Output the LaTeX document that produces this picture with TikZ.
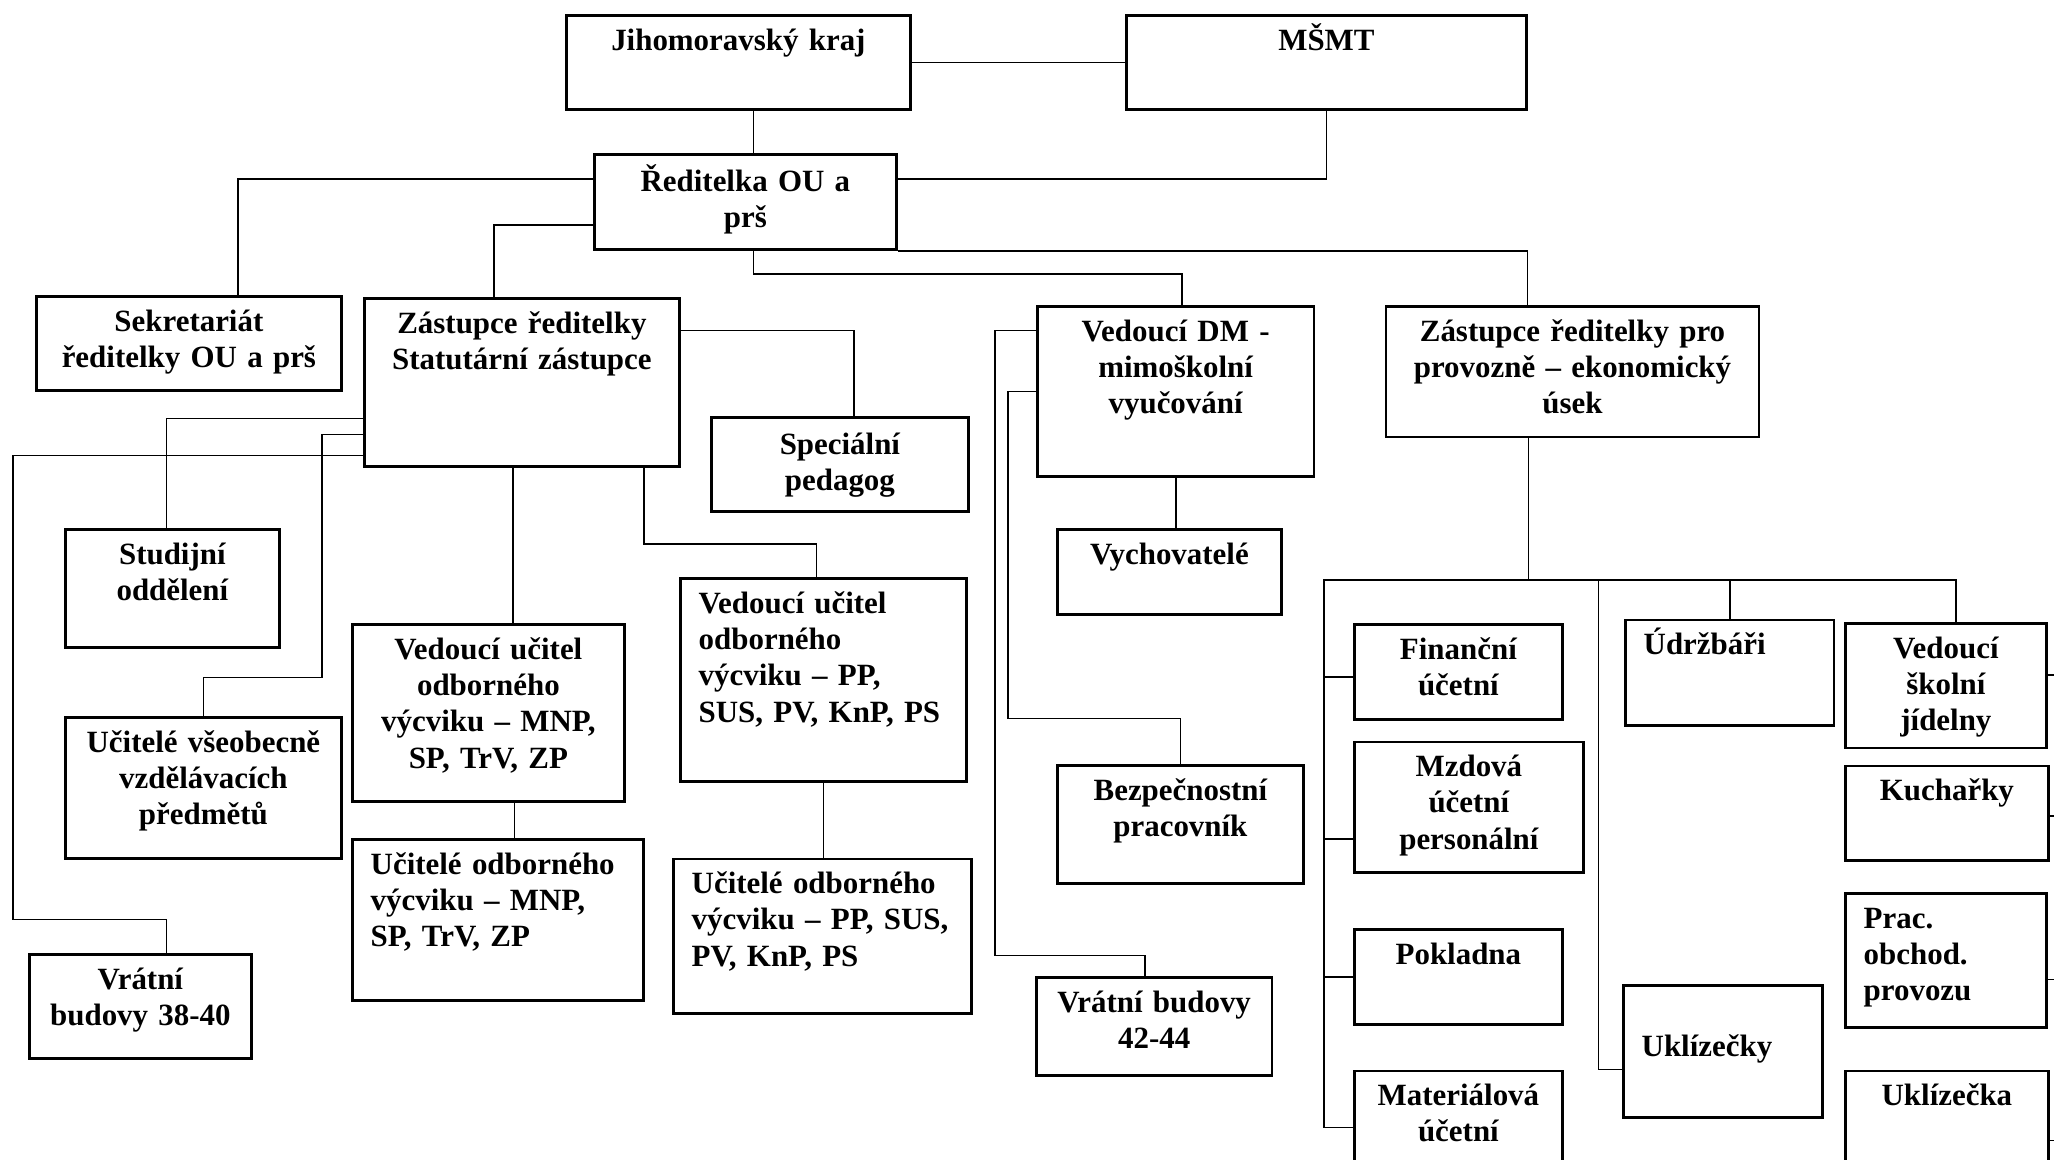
\documentclass[tikz,border=0pt]{standalone}
\usepackage{fontspec}
\setmainfont{Liberation Serif}
\usepackage{tikz}
\tikzstyle{box} = [rectangle, draw=black, line width=0.8pt, anchor=north west, inner sep=0pt]
\tikzstyle{txt} = [anchor=base, yshift=-0.36cm, text width=3.8cm, align=center, inner sep=0pt, font=\bfseries\fontsize{8.8}{10.35}\selectfont]
\tikzstyle{txtl} = [txt, anchor=base west, align=left, xshift=0.19cm]
\tikzstyle{line} = [line width=0.5pt]

\begin{document}
\begin{tikzpicture}
\useasboundingbox (0,0) rectangle (20.54,-11.59);
\clip (0,0) rectangle (20.54,-11.59);

\node (jmk) [box, minimum width=3.44cm, minimum height=0.94cm] at (5.65,-0.14) {};
\node (msmt) [box, minimum width=4.00cm, minimum height=0.94cm] at (11.25,-0.14) {};
\node (redit) [box, minimum width=3.02cm, minimum height=0.95cm] at (5.93,-1.53) {};
\node (sekr) [box, minimum width=3.05cm, minimum height=0.94cm] at (0.35,-2.95) {};
\node (zast) [box, minimum width=3.15cm, minimum height=1.68cm] at (3.63,-2.97) {};
\node (spec) [box, minimum width=2.57cm, minimum height=0.94cm] at (7.10,-4.16) {};
\node (studij) [box, minimum width=2.14cm, minimum height=1.18cm] at (0.64,-5.28) {};
\node (ucvs) [box, minimum width=2.76cm, minimum height=1.41cm] at (0.64,-7.16) {};
\node (vr3840) [box, minimum width=2.22cm, minimum height=1.04cm] at (0.28,-9.53) {};
\node (vmnp) [box, minimum width=2.72cm, minimum height=1.77cm] at (3.51,-6.23) {};
\node (umnp) [box, minimum width=2.91cm, minimum height=1.61cm] at (3.51,-8.38) {};
\node (vpp) [box, minimum width=2.86cm, minimum height=2.03cm] at (6.79,-5.77) {};
\node (upp) [box, minimum width=2.98cm, minimum height=1.545cm] at (6.72,-8.575) {};
\node (vdm) [box, minimum width=2.765cm, minimum height=1.70cm] at (10.36,-3.05) {};
\node (vych) [box, minimum width=2.24cm, minimum height=0.85cm] at (10.56,-5.28) {};
\node (bezp) [box, minimum width=2.46cm, minimum height=1.18cm] at (10.56,-7.64) {};
\node (vr4244) [box, minimum width=2.355cm, minimum height=0.98cm] at (10.35,-9.76) {};
\node (zpe) [box, minimum width=3.73cm, minimum height=1.305cm] at (13.846,-3.05) {};
\node (fin) [box, minimum width=2.08cm, minimum height=0.95cm] at (13.53,-6.23) {};
\node (mzd) [box, minimum width=2.29cm, minimum height=1.305cm] at (13.53,-7.406) {};
\node (pokl) [box, minimum width=2.08cm, minimum height=0.95cm] at (13.53,-9.28) {};
\node (mat) [box, minimum width=2.08cm, minimum height=1.13cm] at (13.53,-10.695) {};
\node (udrz) [box, minimum width=2.085cm, minimum height=1.055cm] at (16.24,-6.185) {};
\node (ukly) [box, minimum width=1.99cm, minimum height=1.32cm] at (16.22,-9.84) {};
\node (vsj) [box, minimum width=2.01cm, minimum height=1.245cm] at (18.44,-6.22) {};
\node (kuch) [box, minimum width=2.03cm, minimum height=0.944cm] at (18.44,-7.646) {};
\node (prac) [box, minimum width=2.01cm, minimum height=1.34cm] at (18.44,-8.92) {};
\node (ukla) [box, minimum width=2.03cm, minimum height=1.39cm] at (18.44,-10.695) {};

\node (jmkt) [txt] at (jmk.north) {Jihomoravský kraj};
\node (msmtt) [txt] at (msmt.north) {MŠMT};
\node (reditt) [txt, yshift=-0.02cm] at (redit.north) {Ředitelka OU a\\prš};
\node (sekrt) [txt] at (sekr.north) {Sekretariát\\ředitelky OU a prš};
\node (zastt) [txt] at (zast.north) {Zástupce ředitelky\\Statutární zástupce};
\node (spect) [txt, yshift=-0.02cm] at (spec.north) {Speciální\\pedagog};
\node (studijt) [txt] at (studij.north) {Studijní\\oddělení};
\node (ucvst) [txt] at (ucvs.north) {Učitelé všeobecně\\vzdělávacích\\předmětů};
\node (vr3840t) [txt] at (vr3840.north) {Vrátní\\budovy 38-40};
\node (vmnpt) [txt] at (vmnp.north) {Vedoucí učitel\\odborného\\výcviku – MNP,\\SP, TrV, ZP};
\node (umnpt) [txtl] at (umnp.north west) {Učitelé odborného\\výcviku – MNP,\\SP, TrV, ZP};
\node (vppt) [txtl] at (vpp.north west) {Vedoucí učitel\\odborného\\výcviku – PP,\\SUS, PV, KnP, PS};
\node (uppt) [txtl] at (upp.north west) {Učitelé odborného\\výcviku – PP, SUS,\\PV, KnP, PS};
\node (vdmt) [txt] at (vdm.north) {Vedoucí DM -\\mimoškolní\\vyučování};
\node (vycht) [txt] at (vych.north) {Vychovatelé};
\node (bezpt) [txt] at (bezp.north) {Bezpečnostní\\pracovník};
\node (vr4244t) [txt] at (vr4244.north) {Vrátní budovy\\42-44};
\node (zpet) [txt] at (zpe.north) {Zástupce ředitelky pro\\provozně – ekonomický\\úsek};
\node (fint) [txt] at (fin.north) {Finanční\\účetní};
\node (mzdt) [txt] at (mzd.north) {Mzdová\\účetní\\personální};
\node (poklt) [txt] at (pokl.north) {Pokladna};
\node (matt) [txt] at (mat.north) {Materiálová\\účetní};
\node (udrzt) [txtl] at (udrz.north west) {Údržbáři};
\node (uklyt) [txtl, yshift=-0.36cm] at (ukly.north west) {Uklízečky};
\node (vsjt) [txt] at (vsj.north) {Vedoucí\\školní\\jídelny};
\node (kucht) [txt] at (kuch.north) {Kuchařky};
\node (prackt) [txtl] at (prac.north west) {Prac.\\obchod.\\provozu};
\node (uklat) [txt] at (ukla.north) {Uklízečka};

\draw [line] (jmk.east) -- (msmt.west);
\draw [line] ([xshift=0.15cm]jmk.south) -- ([xshift=0.15cm]jmk.south |- redit.north);
\draw [line] (msmt.south) |- ([yshift=0.23cm]redit.east);
\draw [line] ([yshift=0.23cm]redit.west) -| ([xshift=0.49cm]sekr.north);
\draw [line] ([yshift=-0.23cm]redit.west) -| ([xshift=-0.28cm]zast.north);
\draw [line] (redit.south east) -| ([xshift=-0.45cm]zpe.north);
\draw [line] ([xshift=0.08cm]redit.south) -- ++(0,-0.23) -| ([xshift=0.06cm]vdm.north);

\draw [line] ([yshift=-0.36cm]zast.west) -| ([xshift=-0.06cm]studij.north);
\draw [line] ([yshift=-0.52cm]zast.west) -- ++(-0.41,0) -- ++(0,-2.43) -| (ucvs.north);
\draw [line] ([yshift=-0.73cm]zast.west) -- ++(-3.50,0) -- ++(0,-4.64) -| ([xshift=0.26cm]vr3840.north);
\draw [line] ([xshift=-0.09cm]zast.south) -- ([xshift=-0.09cm]zast.south |- vmnp.north);
\draw [line] ([xshift=0.26cm]vmnp.south) -- ([xshift=0.26cm]vmnp.south |- umnp.north);
\draw [line] ([xshift=1.22cm]zast.south) -- ++(0,-0.76) -| ([xshift=-0.07cm]vpp.north);
\draw [line] (vpp.south) -- (vpp.south |- upp.north);
\draw [line] ([yshift=0.52cm]zast.east) -| ([xshift=0.14cm]spec.north);

\draw [line] (vdm.south) -- (vdm.south |- vych.north);
\draw [line] ([yshift=0.61cm]vdm.west) -- ++(-0.41,0) -- ++(0,-6.25) -| ([xshift=-0.09cm]vr4244.north);
\draw [line] (vdm.west) -- ++(-0.28,0) -- ++(0,-3.27) -| (bezp.north);

\draw [line] ([xshift=-0.44cm]zpe.south) -- ++(0,-1.415) coordinate (bus);
\draw [line] (bus) -| ([xshift=-0.29cm, yshift=-0.05cm]fin.west) -- ([yshift=-0.05cm]fin.west);
\draw [line] (bus) -| ([xshift=-0.29cm, yshift=-0.32cm]mzd.west) -- ([yshift=-0.32cm]mzd.west);
\draw [line] (bus) -| ([xshift=-0.29cm]pokl.west) -- (pokl.west);
\draw [line] (bus) -| ([xshift=-0.29cm]mat.west) -- (mat.west);
\draw [line] (bus) -- ++(0.70,0) |- ([yshift=-0.18cm]ukly.west);
\draw [line] (bus) -| (udrz.north);
\draw [line] (bus) -| ([xshift=0.1cm]vsj.north);
\draw [line] ([yshift=0.11cm]vsj.east) -- ++(0.2,0);
\draw [line] ([yshift=-0.03cm]kuch.east) -- ++(0.2,0);
\draw [line] ([yshift=-0.19cm]prac.east) -- ++(0.2,0);
\draw [line] (ukla.east) -- ++(0.2,0);
\end{tikzpicture}
\end{document}
